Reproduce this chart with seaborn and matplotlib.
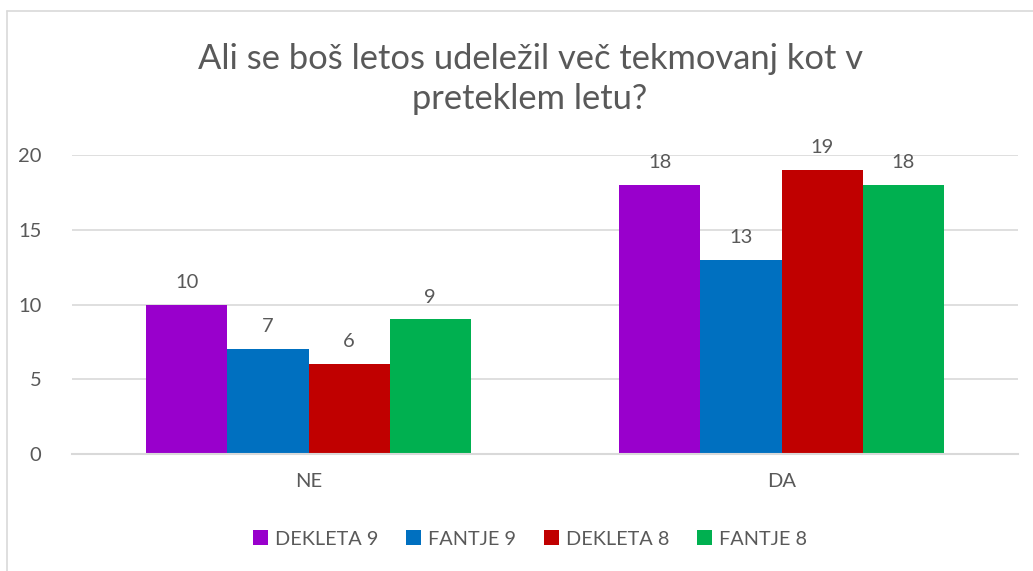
import matplotlib
matplotlib.use("Agg")
import matplotlib.pyplot as plt
import seaborn as sns
import pandas as pd
from matplotlib.lines import Line2D
from matplotlib.patches import Patch

categories = ["NE", "DA"]
series = ["DEKLETA 9", "FANTJE 9", "DEKLETA 8", "FANTJE 8"]
dekleta9 = [10, 18]
fantje9 = [7, 13]
dekleta8 = [6, 19]
fantje8 = [9, 18]
colors = ["#9900CC", "#0070C0", "#C00000", "#00B050"]
title = "Ali se boš letos udeležil več tekmovanj kot v\npreteklem letu?"

rows = []
for s, vals in zip(series, [dekleta9, fantje9, dekleta8, fantje8]):
    for c, v in zip(categories, vals):
        rows.append({"cat": c, "series": s, "value": v})
df = pd.DataFrame(rows)

sns.set_theme(style="white")
plt.rcParams["font.family"] = ["Lato", "DejaVu Sans"]
txt = "#595959"

fig = plt.figure(figsize=(10.33, 5.71), dpi=100)
ax = fig.add_axes([72/1033, 1-454/571, (1018-72)/1033, (454-155)/571])

sns.barplot(data=df, x="cat", y="value", hue="series", order=categories,
            hue_order=series, palette=colors, width=0.685, gap=0,
            saturation=1, ax=ax, legend=False, linewidth=0)

ax.set_ylim(0, 20)
ax.set_xlim(-0.5, 1.5)
ax.set_yticks([0, 5, 10, 15, 20])
ax.yaxis.grid(True, color="#D9D9D9", linewidth=1.2)
ax.set_axisbelow(True)
for sp in ["top", "right", "left"]:
    ax.spines[sp].set_visible(False)
ax.spines["bottom"].set_color("#D9D9D9")
ax.spines["bottom"].set_linewidth(1.5)
ax.tick_params(axis="both", length=0, colors=txt, labelsize=14.5)
ax.tick_params(axis="y", pad=22)
ax.tick_params(axis="x", pad=14)
ax.set_xlabel("")
ax.set_ylabel("")

for cont in ax.containers:
    ax.bar_label(cont, padding=10, fontsize=14.5, color=txt, clip_on=False)

fig.text(530/1033, 1-79/571, title, ha="center", va="center",
         fontsize=24.8, color=txt, linespacing=1.3)

handles = [Patch(facecolor=c, edgecolor="none") for c in colors]
fig.legend(handles, series, loc="center", bbox_to_anchor=(530/1033, 1-539/571),
           ncol=4, frameon=False, fontsize=14.3, labelcolor=txt,
           handlelength=0.75, handleheight=0.75, handletextpad=0.35,
           columnspacing=1.4)

# chart border
fig.add_artist(Line2D([7/1033, 7/1033], [0, 1-11/571], transform=fig.transFigure,
                      color="#D9D9D9", linewidth=1.2))
fig.add_artist(Line2D([7/1033, 1], [1-11/571, 1-11/571], transform=fig.transFigure,
                      color="#D9D9D9", linewidth=1.2))

fig.savefig("out.png", dpi=100, facecolor="white")
